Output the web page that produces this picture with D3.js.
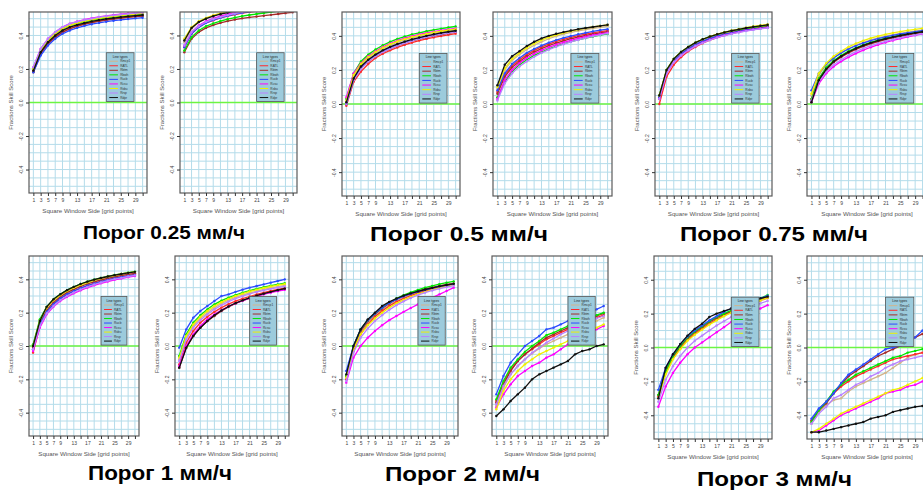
<!DOCTYPE html>
<html>
<head>
<meta charset="utf-8">
<script src="https://cdn.jsdelivr.net/npm/d3@7"></script>
<style>
  body { margin: 0; background: #fff; }
  svg { display: block; font-family: Arial, "Liberation Sans", sans-serif; }
</style>
</head>
<body>
<svg id="chart" width="923" height="492"></svg>
<script>
// Window sides (x) and ticks
const windowSides = [1, 3, 5, 7, 9, 11, 13, 15, 17, 19, 21, 23, 25, 27, 29, 31]
const xTickLabels = [1, 3, 5, 7, 9, 13, 17, 21, 25, 29]
const yTicks = [-0.4, -0.2, 0.0, 0.2, 0.4]
const seriesNames = ['Rmcp1', 'RATL', 'Rbtm', 'Rbwh', 'Rucb', 'Rcsu', 'Rsbu', 'Rrsp', 'Rdpr']
const captions = ['Порог 0.25 мм/ч', 'Порог 0.5 мм/ч', 'Порог 0.75 мм/ч', 'Порог 1 мм/ч', 'Порог 2 мм/ч', 'Порог 3 мм/ч']

// FSS values, one row per series (order = seriesNames)
const fss025a = [
  [0.19,0.30,0.36,0.40,0.43,0.45,0.465,0.475,0.485,0.493,0.500,0.505,0.510,0.515,0.520,0.525],
  [0.19,0.30,0.35,0.39,0.42,0.44,0.455,0.468,0.478,0.486,0.493,0.499,0.504,0.509,0.514,0.518],
  [0.18,0.29,0.35,0.39,0.42,0.44,0.455,0.467,0.477,0.485,0.492,0.498,0.503,0.508,0.512,0.516],
  [0.20,0.31,0.37,0.41,0.44,0.46,0.472,0.482,0.491,0.499,0.505,0.510,0.515,0.520,0.524,0.528],
  [0.18,0.28,0.34,0.38,0.41,0.43,0.445,0.457,0.467,0.475,0.482,0.488,0.493,0.498,0.502,0.506],
  [0.21,0.32,0.38,0.42,0.45,0.47,0.483,0.494,0.503,0.511,0.517,0.522,0.527,0.531,0.535,0.538],
  [0.20,0.31,0.37,0.41,0.44,0.46,0.474,0.485,0.494,0.502,0.508,0.514,0.519,0.523,0.527,0.531],
  [0.21,0.32,0.38,0.42,0.45,0.47,0.482,0.492,0.501,0.509,0.515,0.520,0.525,0.529,0.533,0.536],
  [0.19,0.30,0.36,0.40,0.43,0.45,0.463,0.474,0.484,0.492,0.499,0.504,0.509,0.514,0.518,0.522]
]
const fss025b = [
  [0.36,0.44,0.48,0.50,0.52,0.53,0.54,0.55,0.555,0.56,0.565,0.57,0.575,0.58,0.58,0.585],
  [0.33,0.41,0.45,0.475,0.49,0.505,0.515,0.525,0.533,0.54,0.545,0.55,0.555,0.56,0.565,0.57],
  [0.30,0.38,0.42,0.445,0.462,0.475,0.486,0.495,0.502,0.508,0.513,0.518,0.523,0.528,0.533,0.538],
  [0.31,0.39,0.43,0.455,0.472,0.486,0.497,0.507,0.515,0.522,0.528,0.534,0.54,0.545,0.55,0.555],
  [0.33,0.41,0.45,0.475,0.492,0.506,0.517,0.527,0.535,0.542,0.548,0.553,0.558,0.563,0.567,0.57],
  [0.34,0.42,0.46,0.485,0.502,0.516,0.527,0.537,0.545,0.552,0.558,0.563,0.568,0.572,0.576,0.58],
  [0.38,0.45,0.485,0.505,0.52,0.532,0.542,0.55,0.557,0.563,0.568,0.573,0.577,0.58,0.583,0.586],
  [0.34,0.42,0.455,0.48,0.497,0.51,0.521,0.531,0.539,0.546,0.552,0.557,0.562,0.566,0.57,0.574],
  [0.37,0.445,0.48,0.50,0.515,0.527,0.537,0.545,0.552,0.558,0.563,0.568,0.572,0.576,0.58,0.583]
]
const fss05a = [
  [0.01,0.16,0.23,0.27,0.30,0.325,0.345,0.362,0.376,0.388,0.398,0.407,0.415,0.422,0.428,0.434],
  [-0.01,0.13,0.19,0.235,0.27,0.295,0.315,0.332,0.347,0.36,0.372,0.382,0.391,0.399,0.406,0.413],
  [0.0,0.14,0.21,0.25,0.28,0.305,0.325,0.342,0.357,0.37,0.381,0.391,0.40,0.408,0.415,0.422],
  [0.03,0.18,0.25,0.29,0.32,0.345,0.365,0.382,0.396,0.408,0.418,0.427,0.435,0.442,0.449,0.455],
  [0.0,0.15,0.215,0.255,0.285,0.31,0.33,0.347,0.362,0.375,0.386,0.396,0.405,0.413,0.42,0.427],
  [0.04,0.18,0.24,0.28,0.31,0.335,0.355,0.372,0.386,0.398,0.408,0.417,0.425,0.432,0.438,0.444],
  [0.02,0.17,0.235,0.275,0.305,0.33,0.35,0.367,0.381,0.393,0.403,0.412,0.42,0.427,0.433,0.439],
  [0.0,0.14,0.205,0.25,0.28,0.305,0.325,0.343,0.358,0.371,0.383,0.393,0.402,0.41,0.417,0.424],
  [0.01,0.15,0.22,0.26,0.29,0.315,0.335,0.352,0.366,0.379,0.39,0.40,0.409,0.417,0.424,0.43]
]
const fss05b = [
  [0.09,0.20,0.255,0.29,0.32,0.345,0.365,0.383,0.398,0.41,0.42,0.429,0.437,0.444,0.45,0.456],
  [0.07,0.17,0.225,0.26,0.29,0.315,0.335,0.352,0.367,0.38,0.391,0.401,0.41,0.418,0.425,0.431],
  [0.06,0.16,0.215,0.25,0.28,0.305,0.325,0.343,0.358,0.371,0.383,0.393,0.402,0.41,0.417,0.424],
  [0.04,0.13,0.19,0.23,0.26,0.285,0.305,0.323,0.339,0.353,0.366,0.377,0.387,0.396,0.404,0.411],
  [0.08,0.18,0.235,0.27,0.30,0.323,0.343,0.36,0.375,0.388,0.399,0.409,0.418,0.426,0.433,0.439],
  [0.03,0.14,0.20,0.24,0.27,0.295,0.315,0.333,0.348,0.362,0.374,0.385,0.395,0.404,0.412,0.419],
  [0.10,0.21,0.265,0.30,0.33,0.355,0.375,0.392,0.406,0.418,0.428,0.437,0.445,0.452,0.458,0.464],
  [0.02,0.12,0.18,0.22,0.25,0.277,0.30,0.319,0.336,0.351,0.364,0.376,0.387,0.397,0.406,0.414],
  [0.11,0.23,0.28,0.31,0.34,0.365,0.385,0.40,0.412,0.422,0.431,0.439,0.446,0.452,0.458,0.465]
]
const fss075a = [
  [0.04,0.19,0.255,0.295,0.325,0.35,0.37,0.387,0.401,0.413,0.423,0.432,0.44,0.447,0.453,0.459],
  [0.0,0.16,0.23,0.275,0.31,0.335,0.357,0.375,0.39,0.403,0.414,0.424,0.432,0.44,0.447,0.453],
  [0.03,0.185,0.25,0.29,0.32,0.345,0.365,0.382,0.396,0.408,0.418,0.427,0.435,0.442,0.448,0.454],
  [0.05,0.20,0.265,0.305,0.335,0.36,0.38,0.396,0.409,0.42,0.429,0.437,0.444,0.45,0.456,0.461],
  [0.04,0.19,0.255,0.295,0.325,0.35,0.369,0.385,0.398,0.409,0.418,0.426,0.433,0.439,0.444,0.449],
  [0.03,0.18,0.245,0.285,0.315,0.34,0.36,0.377,0.391,0.403,0.413,0.422,0.43,0.437,0.443,0.448],
  [0.05,0.20,0.265,0.305,0.335,0.36,0.38,0.396,0.41,0.421,0.431,0.44,0.448,0.455,0.461,0.467],
  [0.03,0.18,0.245,0.285,0.315,0.34,0.359,0.375,0.389,0.401,0.411,0.42,0.428,0.435,0.441,0.446],
  [0.05,0.20,0.265,0.305,0.335,0.36,0.38,0.396,0.409,0.42,0.43,0.438,0.446,0.453,0.459,0.465]
]
const fss075b = [
  [0.05,0.17,0.23,0.27,0.30,0.325,0.345,0.362,0.376,0.388,0.398,0.407,0.415,0.422,0.428,0.434],
  [0.03,0.15,0.21,0.25,0.28,0.305,0.325,0.343,0.358,0.371,0.382,0.392,0.401,0.409,0.416,0.423],
  [0.02,0.14,0.20,0.245,0.275,0.30,0.32,0.338,0.353,0.366,0.378,0.388,0.397,0.405,0.413,0.42],
  [0.03,0.15,0.215,0.255,0.285,0.31,0.33,0.347,0.362,0.375,0.386,0.396,0.405,0.413,0.42,0.427],
  [0.08,0.18,0.235,0.27,0.30,0.323,0.342,0.358,0.372,0.384,0.394,0.403,0.411,0.418,0.425,0.431],
  [0.01,0.12,0.18,0.22,0.25,0.275,0.297,0.316,0.333,0.348,0.361,0.373,0.384,0.394,0.403,0.411],
  [0.06,0.18,0.24,0.28,0.31,0.335,0.355,0.372,0.386,0.398,0.408,0.417,0.425,0.432,0.438,0.444],
  [0.02,0.13,0.19,0.23,0.26,0.285,0.307,0.326,0.342,0.356,0.368,0.379,0.389,0.398,0.406,0.413],
  [0.01,0.14,0.205,0.25,0.28,0.305,0.326,0.344,0.359,0.372,0.383,0.393,0.402,0.41,0.417,0.424]
]
const fss1a = [
  [0.0,0.15,0.225,0.27,0.30,0.325,0.345,0.362,0.377,0.39,0.401,0.411,0.42,0.428,0.435,0.441],
  [-0.04,0.12,0.20,0.25,0.285,0.31,0.33,0.348,0.363,0.376,0.388,0.398,0.407,0.415,0.422,0.429],
  [-0.01,0.14,0.215,0.26,0.295,0.32,0.34,0.357,0.372,0.385,0.396,0.406,0.415,0.423,0.43,0.436],
  [0.01,0.16,0.235,0.28,0.31,0.335,0.355,0.372,0.386,0.398,0.409,0.418,0.426,0.433,0.44,0.446],
  [-0.02,0.13,0.205,0.25,0.285,0.31,0.33,0.347,0.362,0.375,0.386,0.396,0.405,0.413,0.42,0.426],
  [-0.03,0.11,0.19,0.235,0.27,0.295,0.316,0.334,0.35,0.364,0.376,0.387,0.397,0.405,0.413,0.42],
  [0.0,0.15,0.23,0.275,0.305,0.33,0.35,0.367,0.382,0.395,0.406,0.416,0.424,0.432,0.439,0.445],
  [-0.02,0.12,0.195,0.24,0.275,0.30,0.321,0.339,0.355,0.369,0.381,0.392,0.401,0.409,0.417,0.424],
  [0.0,0.15,0.235,0.28,0.31,0.335,0.355,0.372,0.386,0.398,0.408,0.417,0.425,0.432,0.439,0.445]
]
const fss1b = [
  [-0.08,0.05,0.12,0.165,0.20,0.23,0.255,0.275,0.292,0.306,0.318,0.329,0.339,0.348,0.356,0.363],
  [-0.11,0.02,0.09,0.14,0.175,0.205,0.23,0.251,0.269,0.284,0.297,0.309,0.32,0.33,0.339,0.347],
  [-0.13,-0.01,0.06,0.11,0.15,0.18,0.21,0.235,0.255,0.272,0.287,0.30,0.312,0.323,0.333,0.342],
  [-0.06,0.07,0.14,0.185,0.22,0.25,0.272,0.29,0.306,0.32,0.332,0.343,0.353,0.362,0.37,0.377],
  [-0.01,0.10,0.17,0.21,0.24,0.27,0.30,0.31,0.325,0.338,0.35,0.36,0.37,0.38,0.39,0.40],
  [-0.12,0.0,0.07,0.12,0.16,0.19,0.215,0.237,0.256,0.272,0.286,0.299,0.31,0.32,0.329,0.337],
  [-0.07,0.06,0.13,0.175,0.21,0.24,0.263,0.283,0.30,0.314,0.327,0.338,0.348,0.357,0.365,0.372],
  [-0.09,0.04,0.11,0.155,0.19,0.22,0.245,0.266,0.284,0.299,0.312,0.324,0.334,0.343,0.351,0.358],
  [-0.13,-0.01,0.06,0.11,0.15,0.185,0.213,0.237,0.257,0.274,0.289,0.302,0.314,0.325,0.335,0.344]
]
const fss2a = [
  [-0.19,-0.02,0.08,0.14,0.18,0.215,0.245,0.27,0.29,0.307,0.321,0.333,0.344,0.353,0.361,0.368],
  [-0.20,-0.03,0.07,0.13,0.175,0.21,0.24,0.265,0.285,0.302,0.317,0.33,0.341,0.351,0.36,0.367],
  [-0.18,-0.01,0.09,0.15,0.19,0.225,0.255,0.28,0.30,0.316,0.33,0.342,0.352,0.361,0.369,0.376],
  [-0.18,0.0,0.10,0.155,0.195,0.23,0.26,0.285,0.305,0.322,0.337,0.35,0.361,0.371,0.38,0.388],
  [-0.15,0.0,0.10,0.155,0.195,0.23,0.258,0.28,0.298,0.313,0.326,0.337,0.347,0.356,0.364,0.371],
  [-0.22,-0.07,0.0,0.05,0.09,0.125,0.155,0.18,0.205,0.228,0.25,0.27,0.29,0.31,0.33,0.35],
  [-0.19,-0.02,0.07,0.125,0.165,0.20,0.23,0.256,0.277,0.295,0.311,0.325,0.337,0.348,0.357,0.365],
  [-0.21,-0.04,0.05,0.105,0.15,0.185,0.217,0.245,0.268,0.288,0.305,0.32,0.333,0.344,0.354,0.362],
  [-0.17,0.0,0.10,0.16,0.20,0.24,0.265,0.285,0.302,0.316,0.328,0.339,0.349,0.358,0.366,0.373]
]
const fss2b = [
  [-0.36,-0.25,-0.17,-0.12,-0.08,-0.045,-0.015,0.01,0.03,0.05,0.07,0.09,0.11,0.13,0.15,0.17],
  [-0.33,-0.22,-0.14,-0.09,-0.05,-0.02,0.01,0.04,0.06,0.08,0.10,0.12,0.14,0.155,0.17,0.185],
  [-0.34,-0.23,-0.15,-0.09,-0.05,-0.015,0.02,0.05,0.07,0.09,0.11,0.13,0.15,0.165,0.18,0.195],
  [-0.32,-0.21,-0.13,-0.08,-0.035,0.0,0.03,0.065,0.08,0.10,0.12,0.14,0.155,0.17,0.185,0.20],
  [-0.29,-0.18,-0.10,-0.05,0.0,0.03,0.06,0.10,0.11,0.13,0.15,0.17,0.18,0.20,0.22,0.24],
  [-0.37,-0.29,-0.23,-0.18,-0.15,-0.12,-0.10,-0.07,-0.05,-0.02,0.01,0.03,0.06,0.08,0.10,0.12],
  [-0.38,-0.27,-0.20,-0.15,-0.11,-0.08,-0.05,-0.03,-0.01,0.01,0.03,0.05,0.07,0.09,0.11,0.13],
  [-0.35,-0.24,-0.17,-0.12,-0.08,-0.04,-0.01,0.02,0.045,0.07,0.09,0.11,0.13,0.15,0.165,0.18],
  [-0.42,-0.38,-0.33,-0.29,-0.25,-0.20,-0.17,-0.15,-0.13,-0.11,-0.09,-0.05,-0.03,-0.02,0.0,0.01]
]
const fss3a = [
  [-0.29,-0.15,-0.06,0.0,0.05,0.085,0.115,0.14,0.165,0.185,0.205,0.225,0.245,0.26,0.275,0.29],
  [-0.29,-0.15,-0.065,-0.005,0.045,0.08,0.11,0.14,0.165,0.19,0.21,0.23,0.25,0.265,0.28,0.295],
  [-0.28,-0.14,-0.055,0.005,0.055,0.09,0.12,0.15,0.175,0.195,0.215,0.235,0.255,0.27,0.285,0.30],
  [-0.28,-0.14,-0.05,0.01,0.06,0.095,0.125,0.155,0.18,0.20,0.22,0.24,0.26,0.275,0.29,0.31],
  [-0.25,-0.12,-0.04,0.02,0.065,0.10,0.13,0.16,0.185,0.21,0.23,0.245,0.26,0.275,0.29,0.305],
  [-0.35,-0.23,-0.15,-0.09,-0.04,0.0,0.03,0.06,0.09,0.12,0.15,0.17,0.19,0.21,0.23,0.25],
  [-0.30,-0.16,-0.07,-0.01,0.04,0.075,0.105,0.135,0.16,0.185,0.205,0.225,0.245,0.262,0.278,0.295],
  [-0.32,-0.19,-0.11,-0.05,0.0,0.04,0.07,0.10,0.13,0.155,0.18,0.20,0.22,0.24,0.26,0.275],
  [-0.30,-0.12,-0.04,0.02,0.07,0.11,0.14,0.18,0.20,0.215,0.23,0.245,0.26,0.275,0.29,0.30]
]
const fss3b = [
  [-0.45,-0.38,-0.34,-0.31,-0.30,-0.26,-0.23,-0.21,-0.19,-0.17,-0.15,-0.12,-0.09,-0.06,-0.04,-0.03],
  [-0.44,-0.37,-0.32,-0.27,-0.23,-0.20,-0.17,-0.15,-0.13,-0.11,-0.09,-0.07,-0.06,-0.05,-0.04,-0.03],
  [-0.43,-0.37,-0.33,-0.27,-0.22,-0.17,-0.14,-0.11,-0.08,-0.05,-0.03,-0.01,0.01,0.03,0.06,0.08],
  [-0.44,-0.37,-0.32,-0.26,-0.22,-0.19,-0.16,-0.14,-0.12,-0.10,-0.08,-0.06,-0.05,-0.03,-0.02,-0.01],
  [-0.42,-0.36,-0.32,-0.27,-0.21,-0.16,-0.13,-0.10,-0.07,-0.04,-0.01,0.0,0.01,0.03,0.06,0.10],
  [-0.50,-0.49,-0.46,-0.43,-0.40,-0.38,-0.36,-0.34,-0.32,-0.30,-0.27,-0.26,-0.25,-0.23,-0.22,-0.20],
  [-0.50,-0.48,-0.45,-0.42,-0.39,-0.37,-0.35,-0.33,-0.31,-0.29,-0.27,-0.25,-0.24,-0.22,-0.20,-0.18],
  [-0.45,-0.39,-0.35,-0.30,-0.28,-0.25,-0.22,-0.20,-0.17,-0.15,-0.12,-0.10,-0.08,-0.07,-0.06,-0.05],
  [-0.50,-0.50,-0.49,-0.48,-0.47,-0.46,-0.45,-0.44,-0.42,-0.41,-0.40,-0.38,-0.37,-0.36,-0.35,-0.345]
]

// Line colours per legend entry
const colors = ['#d2b48c', '#ff2a2a', '#a52a2a', '#00e600', '#2b4bff', '#ff00ff', '#f0f000', '#b982ff', '#111111']

// Layout: plot box of each panel
const panels = [
  { data: fss025a, x: 29,  y: 12,  w: 118, h: 181 },
  { data: fss025b, x: 180, y: 12,  w: 117, h: 181 },
  { data: fss05a,  x: 342, y: 12,  w: 118, h: 184 },
  { data: fss05b,  x: 493, y: 12,  w: 119, h: 184 },
  { data: fss075a, x: 655, y: 12,  w: 117, h: 184 },
  { data: fss075b, x: 807, y: 12,  w: 120, h: 184 },
  { data: fss1a,   x: 29,  y: 256, w: 110, h: 180 },
  { data: fss1b,   x: 175, y: 256, w: 114, h: 180 },
  { data: fss2a,   x: 342, y: 256, w: 116, h: 180 },
  { data: fss2b,   x: 492, y: 256, w: 116, h: 180 },
  { data: fss3a,   x: 654, y: 256, w: 118, h: 183 },
  { data: fss3b,   x: 807, y: 256, w: 120, h: 183 }
]
const captionPos = [
  { x: 83,  y: 239, size: 19, len: 162 },
  { x: 370, y: 241, size: 20, len: 178 },
  { x: 680, y: 241, size: 20, len: 188 },
  { x: 88,  y: 480, size: 20, len: 144 },
  { x: 385, y: 481, size: 20, len: 155 },
  { x: 697, y: 486, size: 20, len: 155 }
]

const svg = d3.select('#chart')

function drawPanel(p, i) {
  const xScale = d3.scaleLinear().domain([-0.2, 32.2]).range([0, p.w])
  const yScale = d3.scaleLinear().domain([-0.54, 0.54]).range([p.h, 0])

  const g = svg.append('g').attr('transform', `translate(${p.x},${p.y})`)

  g.append('clipPath').attr('id', `clip${i}`)
    .append('rect').attr('width', p.w).attr('height', p.h)

  g.append('rect').attr('width', p.w).attr('height', p.h).attr('fill', '#fff')

  // Grid
  const grid = g.append('g').attr('clip-path', `url(#clip${i})`)
  grid.selectAll('.vg').data(windowSides).join('line')
    .attr('x1', d => xScale(d)).attr('x2', d => xScale(d))
    .attr('y1', 0).attr('y2', p.h)
    .attr('stroke', '#b4dcea').attr('stroke-width', 1)
  grid.selectAll('.hg').data(d3.range(-10, 11).map(k => k * 0.05)).join('line')
    .attr('x1', 0).attr('x2', p.w)
    .attr('y1', d => yScale(d)).attr('y2', d => yScale(d))
    .attr('stroke', '#b4dcea').attr('stroke-width', 1)

  // Zero reference line
  g.append('line')
    .attr('x1', 0).attr('x2', p.w)
    .attr('y1', yScale(0)).attr('y2', yScale(0))
    .attr('stroke', '#6cf542').attr('stroke-width', 1.6)

  // Series
  const line = d3.line()
    .x((d, k) => xScale(windowSides[k]))
    .y(d => yScale(d))
  const plot = g.append('g').attr('clip-path', `url(#clip${i})`)
  p.data.forEach((vals, s) => {
    plot.append('path').datum(vals)
      .attr('d', line)
      .attr('fill', 'none')
      .attr('stroke', colors[s])
      .attr('stroke-width', 1.3)
    plot.selectAll(null).data(vals).join('circle')
      .attr('cx', (d, k) => xScale(windowSides[k]))
      .attr('cy', d => yScale(d))
      .attr('r', 1.2)
      .attr('fill', colors[s])
  })

  // Box
  g.append('rect').attr('width', p.w).attr('height', p.h)
    .attr('fill', 'none').attr('stroke', '#5a5a5a').attr('stroke-width', 1.2)

  // Bottom axis
  const xAxis = g.append('g')
    .attr('transform', `translate(0,${p.h})`)
    .call(d3.axisBottom(xScale)
      .tickValues(windowSides)
      .tickSize(3)
      .tickPadding(2)
      .tickFormat(d => xTickLabels.includes(d) ? d : ''))
  xAxis.select('.domain').remove()
  xAxis.selectAll('line').attr('stroke', '#333')
  xAxis.selectAll('text').attr('font-size', 5).attr('fill', '#444').attr('font-family', 'Arial, sans-serif')

  // Left axis
  const yAxis = g.append('g')
    .call(d3.axisLeft(yScale)
      .tickValues(yTicks)
      .tickSize(3)
      .tickFormat(d => d.toFixed(1)))
  yAxis.select('.domain').remove()
  yAxis.selectAll('line').attr('stroke', '#333')
  yAxis.selectAll('text')
    .attr('font-size', 5).attr('fill', '#444').attr('font-family', 'Arial, sans-serif')
    .attr('text-anchor', 'middle')
    .attr('x', 0).attr('y', -6).attr('dy', 0)
    .attr('transform', 'rotate(-90)')

  // Axis titles
  g.append('text')
    .attr('x', p.w / 2).attr('y', p.h + 20)
    .attr('text-anchor', 'middle')
    .attr('font-size', 6.2).attr('fill', '#555')
    .text('Square Window Side [grid points]')
  g.append('text')
    .attr('transform', `translate(-16,${p.h / 2}) rotate(-90)`)
    .attr('text-anchor', 'middle')
    .attr('font-size', 6).attr('fill', '#555')
    .text('Fractions Skill Score')

  // Legend
  const lx = p.w * 0.655
  const ly = p.h * 0.225
  const lw = p.w * 0.235
  const lh = p.h * 0.27
  const legend = g.append('g').attr('transform', `translate(${lx},${ly})`)
  legend.append('rect').attr('width', lw).attr('height', lh)
    .attr('fill', '#9ccbdc').attr('stroke', '#555').attr('stroke-width', 0.8)
  legend.append('text').attr('x', lw / 2).attr('y', 5)
    .attr('text-anchor', 'middle').attr('font-size', 3.3).attr('fill', '#222')
    .text('Line types')
  const step = (lh - 8) / seriesNames.length
  seriesNames.forEach((name, s) => {
    const yy = 8.5 + s * step
    legend.append('line')
      .attr('x1', 3).attr('x2', lw * 0.42).attr('y1', yy).attr('y2', yy)
      .attr('stroke', colors[s]).attr('stroke-width', 1)
    legend.append('text').attr('x', lw * 0.5).attr('y', yy + 1.1)
      .attr('font-size', 3.2).attr('fill', '#333')
      .text(name)
  })
}

panels.forEach(drawPanel)

// Captions
captions.forEach((c, i) => {
  const pos = captionPos[i]
  svg.append('text')
    .attr('x', pos.x).attr('y', pos.y)
    .attr('font-size', pos.size)
    .attr('font-weight', 'bold')
    .attr('fill', '#000')
    .attr('textLength', pos.len)
    .attr('lengthAdjust', 'spacingAndGlyphs')
    .text(c)
})
</script>
</body>
</html>
